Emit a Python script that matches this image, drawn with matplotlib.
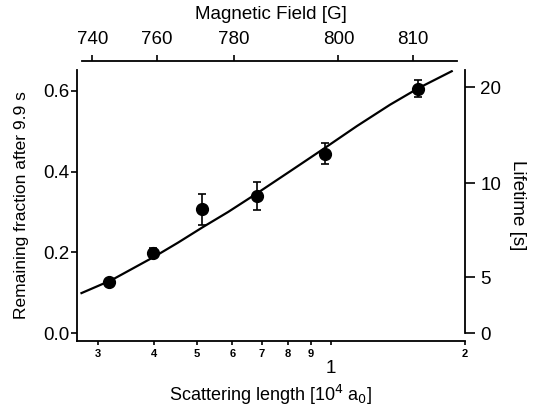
import numpy as np
import matplotlib.pyplot as plt
from matplotlib.ticker import NullLocator

plt.rcParams['font.family'] = ['Liberation Sans', 'DejaVu Sans']

# measured points: scattering length [1e4 a0], remaining fraction, error
scat_len = [0.317, 0.398, 0.512, 0.683, 0.969, 1.566]
fraction = [0.126, 0.198, 0.307, 0.340, 0.445, 0.605]
frac_err = [0.005, 0.012, 0.038, 0.035, 0.027, 0.021]

# model curve
curve_a = [0.275, 0.321, 0.402, 0.453, 0.516, 0.587, 0.681,
           0.809, 0.969, 1.143, 1.357, 1.571, 1.867]
curve_f = [0.099, 0.131, 0.190, 0.224, 0.263, 0.300, 0.346,
           0.401, 0.459, 0.513, 0.566, 0.607, 0.649]

frac_ticks = [0.0, 0.2, 0.4, 0.6]
minor_ticks = [0.3, 0.4, 0.5, 0.6, 0.7, 0.8, 0.9, 2.0]
minor_labels = ['3', '4', '5', '6', '7', '8', '9', '2']
field_ticks = [740, 760, 780, 800, 810]
lifetime_ticks = [0, 5, 10, 20]

hold_time = 9.9
# Feshbach resonance: a = a_bg * (1 + delta / (B - B0)), a in 1e4 a0
a_bg, delta, B0 = -0.1328, 300.0, 834.0


def a_to_field(a):
    a = np.asarray(a, dtype=float)
    with np.errstate(divide='ignore', invalid='ignore'):
        return B0 - delta / (a / -a_bg + 1.0)


def field_to_a(b):
    b = np.asarray(b, dtype=float)
    with np.errstate(divide='ignore', invalid='ignore'):
        return -a_bg * (delta / (B0 - b) - 1.0)


fig = plt.figure(figsize=(5.33, 4.15), dpi=100)
ax = fig.add_axes([0.1445, 0.1783, 0.728, 0.653])

ax.plot(curve_a, curve_f, color='black', lw=1.6)
ax.errorbar(scat_len, fraction, yerr=frac_err, fmt='o', color='black',
            ms=8.5, capsize=3, elinewidth=1.2, capthick=1.2)

ax.set_xscale('log')
ax.set_xlim(0.2687, 2.0)
ax.set_ylim(-0.0198, 0.652)

ax.set_xticks([1.0])
ax.set_xticklabels(['1'])
ax.set_xticks(minor_ticks, minor=True)
ax.set_xticklabels(minor_labels, minor=True)
ax.tick_params(axis='x', which='major', direction='out', length=3, width=1.2,
               pad=11, labelsize=13.5)
ax.tick_params(axis='x', which='minor', direction='out', length=3, width=1.2,
               pad=2.5, labelsize=8)
for lab in ax.get_xticklabels(minor=True):
    lab.set_fontweight('bold')

ax.set_yticks(frac_ticks)
ax.set_yticklabels([f'{v:.1f}' for v in frac_ticks])
ax.tick_params(axis='y', direction='out', length=4, width=1.2, pad=1.5,
               labelsize=13.5)

ax.spines['top'].set_visible(False)
ax.spines['right'].set_visible(False)
for s in ['left', 'bottom']:
    ax.spines[s].set_linewidth(1.3)

ax.set_xlabel('Scattering length [10$^4$ a$_0$]', fontsize=13, labelpad=4)
ax.set_ylabel('Remaining fraction after 9.9 s', fontsize=12.5, labelpad=10)

# right axis: lifetime
axr = ax.twinx()
axr.set_ylim(ax.get_ylim())
life_pos = [0.0 if t == 0 else np.exp(-hold_time / t) for t in lifetime_ticks]
axr.set_yticks(life_pos)
axr.set_yticklabels([str(t) for t in lifetime_ticks])
axr.tick_params(axis='y', direction='out', length=7, width=1.2, pad=4,
                labelsize=13.5)
for s in ['top', 'left', 'bottom']:
    axr.spines[s].set_visible(False)
axr.spines['right'].set_linewidth(1.3)
axr.spines['right'].set_bounds(0.0, 0.652)
axr.set_ylabel('Lifetime [s]', fontsize=13.5, rotation=-90, labelpad=18)

# top axis: magnetic field, drawn detached above the frame
secax = ax.secondary_xaxis(1.0335, functions=(a_to_field, field_to_a))
secax.set_xticks(field_ticks)
secax.set_xticklabels([str(b) for b in field_ticks])
secax.xaxis.set_minor_locator(NullLocator())
secax.tick_params(axis='x', direction='out', length=4, width=1.2, pad=5,
                  labelsize=13.5)
secax.spines['top'].set_linewidth(1.3)
secax.spines['top'].set_bounds(736.5, 814.6)
secax.set_xlabel('Magnetic Field [G]', fontsize=13.5, labelpad=9)

fig.savefig('out.png', dpi=100)
